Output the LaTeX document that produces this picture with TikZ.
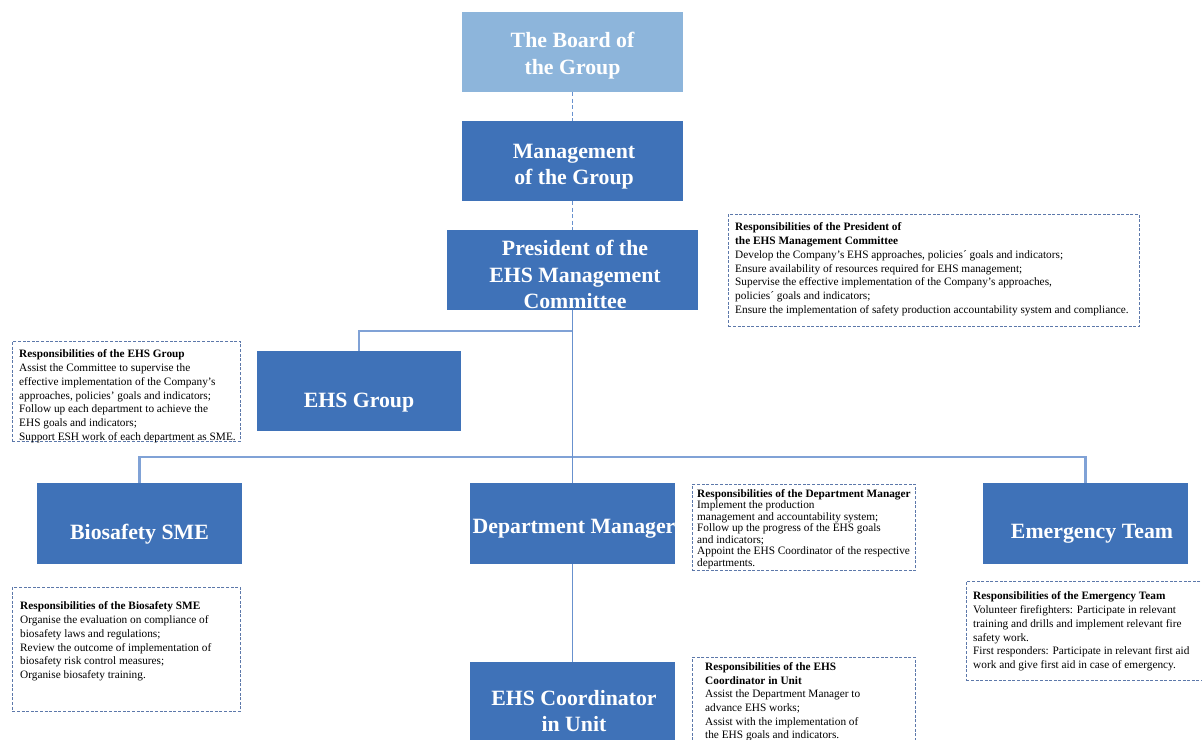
\documentclass[tikz,border=0pt]{standalone}
\usepackage{fontspec}
\setmainfont{Liberation Serif}
\definecolor{unitblue}{RGB}{63,114,184}
\definecolor{boardblue}{RGB}{141,181,219}
\definecolor{linkblue}{RGB}{128,162,214}
\definecolor{trunkblue}{RGB}{104,145,206}
\definecolor{frameblue}{RGB}{92,120,170}
\tikzset{
  unitbox/.style={rectangle, fill=unitblue, draw=none, inner sep=0pt},
  boardbox/.style={unitbox, fill=boardblue},
  unittext/.style={text=white, font=\fontsize{21.8}{26.5}\selectfont\bfseries, align=center, inner sep=0pt},
  respbox/.style={rectangle, draw=frameblue, line width=0.8pt, dash pattern=on 3pt off 1.6pt, inner sep=0pt, anchor=north west},
  resptext/.style={anchor=north west, align=left, inner sep=0pt, text=black, font=\fontsize{11.3}{13.8}\selectfont},
  resptight/.style={resptext, font=\fontsize{11.3}{11.5}\selectfont},
  dashlink/.style={draw=trunkblue, line width=1.2pt, dash pattern=on 4pt off 2.5pt},
  trunk/.style={draw=trunkblue, line width=1.4pt},
  branch/.style={draw=linkblue, line width=2.2pt},
}
\begin{document}
\begin{tikzpicture}[x=1pt, y=-1pt]
\useasboundingbox (0,0) rectangle (1202,739);
\clip (0,0) rectangle (1202,739);
\fill[white] (0,0) rectangle (1202,739);

% ---- units ----
\node[boardbox, minimum width=221pt, minimum height=80pt] (board) at (572.5,52) {};
\node[unittext] (board-t) at (572.5,55.5) {The Board of\\the Group};

\node[unitbox, minimum width=221pt, minimum height=80pt] (mgmt) at (572.5,161) {};
\node[unittext] (mgmt-t) at (574,166.5) {Management\\of the Group};

\node[unitbox, minimum width=251pt, minimum height=80pt] (pres) at (572.5,270) {};
\node[unittext] (pres-t) at (575,274.5) {President of the\\EHS Management\\Committee};

\node[unitbox, minimum width=204pt, minimum height=80pt] (ehs) at (359,391) {};
\node[unittext] (ehs-t) at (359,402.5) {EHS Group};

\node[unitbox, minimum width=205pt, minimum height=81pt] (bios) at (139.5,523.5) {};
\node[unittext] (bios-t) at (139.5,534) {Biosafety SME};

\node[unitbox, minimum width=205pt, minimum height=81pt] (dept) at (572.5,523.5) {};
\node[unittext] (dept-t) at (574,528.5) {Department Manager};

\node[unitbox, minimum width=205pt, minimum height=81pt] (emerg) at (1085.5,523.5) {};
\node[unittext] (emerg-t) at (1092,533.5) {Emergency Team};

\node[unitbox, minimum width=205pt, minimum height=100pt] (coord) at (572.5,712) {};
\node[unittext] (coord-t) at (574,711) {EHS Coordinator\\in Unit};

% ---- connectors ----
\draw[dashlink] (board) -- (mgmt);
\draw[dashlink] (mgmt) -- (pres);
\coordinate (j1) at (572.5,331);
\coordinate (j2) at (572.5,457);
\draw[branch] (j1) -| (ehs.north);
\draw[branch] (j2) -| (bios.north);
\draw[branch] (j2) -| (emerg.north);
\draw[trunk] (pres) -- (dept);
\draw[trunk] (dept) -- (coord);

% ---- responsibilities ----
\node[respbox, minimum width=411pt, minimum height=112pt] (pres-r) at (728,214) {};
\node[resptext] (pres-rt) at (735,222.5) {\textbf{Responsibilities of the President of}\\
\textbf{the EHS Management Committee}\\
Develop the Company’s EHS approaches, policies´ goals and indicators;\\
Ensure availability of resources required for EHS management;\\
Supervise the effective implementation of the Company’s approaches,\\
policies´ goals and indicators;\\
Ensure the implementation of safety production accountability system and compliance.};

\node[respbox, minimum width=228pt, minimum height=100pt] (ehs-r) at (12,341) {};
\node[resptext] (ehs-rt) at (19,349.5) {\textbf{Responsibilities of the EHS Group}\\
Assist the Committee to supervise the\\
effective implementation of the Company’s\\
approaches, policies’ goals and indicators;\\
Follow up each department to achieve the\\
EHS goals and indicators;\\
Support ESH work of each department as SME.};

\node[respbox, minimum width=223pt, minimum height=86pt] (dept-r) at (692,484) {};
\node[resptight] (dept-rt) at (697,489) {\textbf{Responsibilities of the Department Manager}\\
Implement the production\\
management and accountability system;\\
Follow up the progress of the EHS goals\\
and indicators;\\
Appoint the EHS Coordinator of the respective\\
departments.};

\node[respbox, minimum width=240pt, minimum height=99pt] (emerg-r) at (966,581) {};
\node[resptext] (emerg-rt) at (973,591.5) {\textbf{Responsibilities of the Emergency Team}\\
Volunteer firefighters: Participate in relevant\\
training and drills and implement relevant fire\\
safety work.\\
First responders: Participate in relevant first aid\\
work and give first aid in case of emergency.};

\node[respbox, minimum width=228pt, minimum height=124pt] (bios-r) at (12,587) {};
\node[resptext] (bios-rt) at (20,601.5) {\textbf{Responsibilities of the Biosafety SME}\\
Organise the evaluation on compliance of\\
biosafety laws and regulations;\\
Review the outcome of implementation of\\
biosafety risk control measures;\\
Organise biosafety training.};

\node[respbox, minimum width=223pt, minimum height=95pt] (coord-r) at (692,657) {};
\node[resptext, font=\fontsize{11.3}{13.6}\selectfont] (coord-rt) at (705,662.5) {\textbf{Responsibilities of the EHS}\\
\textbf{Coordinator in Unit}\\
Assist the Department Manager to\\
advance EHS works;\\
Assist with the implementation of\\
the EHS goals and indicators.};
\end{tikzpicture}
\end{document}
